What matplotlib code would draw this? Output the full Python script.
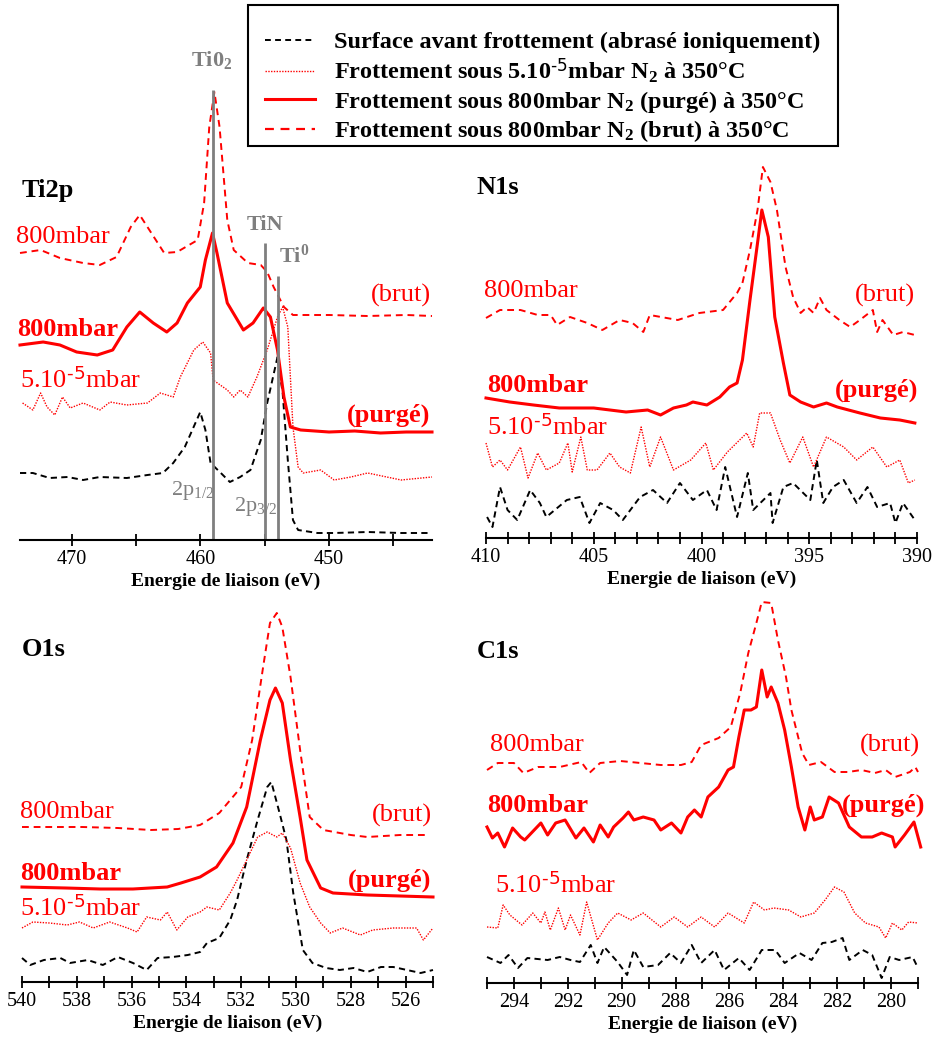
import matplotlib
matplotlib.use("Agg")
import matplotlib.pyplot as plt
from matplotlib.lines import Line2D
from matplotlib.patches import Rectangle

plt.rcParams['font.family'] = ['Liberation Serif', 'DejaVu Serif']
plt.rcParams['mathtext.default'] = 'regular'

RED = '#ff0000'
GRAY = '#7f7f7f'

# ---------------- Ti2p ----------------
ti_surf_e = [474, 473.0, 471.7, 470.3, 469.1, 467.8, 465.7, 464.1, 462.9, 462.1, 461.2, 460.0, 459.6, 459.2,
             458.4, 457.7, 456.9, 456.1, 455.3, 454.8, 454.0, 453.6, 453.2, 452.8, 452.4, 450.9, 449.6, 447.0,
             444.4, 442.1]
ti_surf_i = [67, 67, 62, 63, 60, 63, 62, 65, 67, 77, 93, 128, 110, 77,
             67, 58, 63, 70, 100, 137, 183, 147, 80, 20, 10, 7, 7, 8,
             7, 7]
ti_vac_e = [473.8, 473.0, 472.4, 471.9, 471.3, 470.7, 470.1, 469.1, 467.8, 467.0, 465.7, 464.1, 463.1, 462.1,
            461.55, 460.5, 459.8, 459.2, 459.0, 457.9, 457.4, 456.9, 456.3, 455.6, 454.8, 454.0, 453.6, 453.2,
            452.8, 452.4, 452.0, 450.65, 449.6, 448.3, 447.0, 444.4, 442.0]
ti_vac_i = [137, 130, 147, 133, 125, 143, 132, 137, 130, 138, 135, 137, 147, 143,
            163, 190, 198, 187, 160, 150, 143, 150, 143, 163, 190, 223, 233, 213,
            113, 73, 67, 70, 60, 63, 67, 60, 63]
ti_purge_e = [474, 472.2, 470.9, 469.6, 468.0, 466.8, 465.7, 464.7, 463.65, 462.6, 461.8, 461.0, 460.0, 459.6,
              459.05, 458.7, 457.9, 456.65, 455.9, 455.1, 454.55, 454.0, 453.5, 453.0, 452.2, 450, 448, 446,
              444, 442]
ti_purge_i = [195, 198, 195, 188, 185, 190, 213, 228, 217, 208, 217, 237, 253, 280,
              307, 287, 237, 210, 217, 232, 223, 190, 143, 113, 110, 108, 109, 107,
              108, 108]
ti_brut_e = [474, 472.4, 470.9, 469.1, 467.8, 466.5, 465.4, 464.7, 463.6, 462.8, 461.8, 460.2, 459.7, 459.3,
             458.9, 458.5, 457.9, 457.4, 456.3, 455.3, 454.8, 454.3, 453.5, 452.8, 450, 447, 444, 442]
ti_brut_i = [287, 290, 282, 277, 275, 283, 313, 325, 303, 287, 288, 300, 337, 413,
             448, 413, 320, 290, 277, 275, 268, 253, 233, 225, 225, 224, 225, 224]

# ---------------- N1s ----------------
n_surf_e = [409.95, 409.7, 409.35, 409.0, 408.55, 407.95, 407.5, 407.2, 406.25, 405.65, 405.2, 404.7, 404.1,
            403.65, 402.85, 402.25, 401.6, 401.0, 400.4, 399.75, 399.3, 398.9, 398.35, 397.85, 397.6, 396.8,
            396.7, 396.2, 395.75, 394.95, 394.65, 394.35, 393.9, 393.4, 392.8, 392.3, 391.85, 391.25, 391.0,
            390.65, 390.1]
n_surf_i = [21, 11, 51, 28, 18, 48, 35, 21, 38, 41, 15, 35, 28,
            18, 41, 48, 35, 55, 38, 48, 28, 71, 21, 65, 28, 45,
            15, 51, 55, 38, 78, 35, 51, 58, 35, 51, 31, 35, 15,
            35, 18]
n_vac_e = [410.0, 409.7, 409.35, 409.0, 408.4, 408.05, 407.6, 407.2, 406.6, 406.2, 406.0, 405.6, 405.3, 404.85,
           404.25, 403.8, 403.3, 402.8, 402.4, 401.9, 401.3, 400.5, 399.8, 399.45, 398.8, 397.9, 397.6, 397.3,
           396.8, 396.35, 395.9, 395.3, 394.8, 394.2, 393.4, 392.8, 392.05, 391.4, 390.8, 390.4, 390.1]
n_vac_i = [95, 71, 78, 68, 91, 60, 85, 68, 75, 95, 66, 101, 68, 68,
           85, 71, 65, 111, 71, 101, 68, 78, 95, 68, 86, 105, 91, 125,
           125, 98, 75, 101, 71, 101, 91, 78, 91, 71, 78, 55, 58]
n_purge_e = [410.0, 408.9, 407.8, 406.6, 405.0, 403.5, 402.5, 401.9, 401.3, 400.7, 400.4, 399.75, 399.15, 398.7,
             398.35, 398.1, 397.75, 397.4, 397.2, 396.9, 396.6, 396.2, 395.9, 395.4, 394.8, 394.2, 393.7, 392.65,
             391.7, 390.8, 390.1]
n_purge_i = [140, 136, 133, 130, 130, 126, 128, 123, 130, 133, 136, 133, 141, 151,
             155, 178, 238, 295, 328, 301, 221, 175, 143, 136, 131, 135, 131, 125,
             120, 118, 115]
n_brut_e = [410.0, 409.35, 408.4, 407.6, 407.0, 406.7, 406.1, 405.3, 404.6, 403.8, 403.2, 402.7, 402.4, 401.1,
            400.1, 399.0, 398.35, 398.1, 397.75, 397.4, 397.15, 396.8, 396.5, 396.1, 395.75, 395.4, 395.1, 394.8,
            394.5, 394.2, 393.6, 393.1, 392.65, 392.05, 391.85, 391.6, 391.1, 390.65, 390.1]
n_brut_i = [220, 228, 228, 223, 223, 213, 221, 215, 208, 218, 215, 206, 223, 218,
            225, 228, 245, 255, 288, 328, 371, 356, 328, 271, 241, 225, 231, 225,
            240, 228, 218, 211, 218, 228, 206, 218, 203, 206, 203]

# ---------------- O1s ----------------
o_surf_e = [540, 539.7, 539.2, 538.6, 538.25, 537.6, 537.05, 536.5, 535.95, 535.45, 535.05, 534.5, 533.95, 533.5,
            533.25, 532.8, 532.4, 532.15, 531.8, 531.4, 531.05, 530.9, 530.6, 530.35, 530.1, 529.75, 529.4, 528.9,
            528.4, 527.9, 527.4, 526.9, 526.45, 525.95, 525.45, 525.0]
o_surf_i = [24, 17, 22, 24, 19, 22, 17, 25, 19, 12, 24, 25, 27, 30,
            39, 44, 62, 82, 122, 162, 195, 200, 169, 142, 89, 32, 19, 14,
            12, 14, 10, 15, 15, 12, 9, 12]
o_vac_e = [540, 539.6, 539.0, 538.35, 537.9, 537.4, 536.8, 536.15, 535.8, 535.45, 534.95, 534.7, 534.35, 533.95,
           533.5, 533.25, 532.8, 532.4, 532.15, 531.8, 531.4, 531.05, 530.7, 530.5, 530.2, 529.85, 529.5, 529.1,
           528.75, 528.3, 527.65, 527.2, 526.45, 525.6, 525.35, 525.0]
o_vac_i = [54, 60, 59, 57, 60, 54, 60, 54, 50, 65, 62, 70, 52, 65,
           70, 75, 72, 89, 102, 122, 145, 150, 145, 149, 134, 99, 75, 59,
           49, 54, 47, 52, 54, 54, 42, 54]
o_purge_e = [540, 538.4, 537.15, 535.95, 534.7, 534.2, 533.5, 532.9, 532.3, 531.8, 531.3, 530.95, 530.75, 530.5,
             530.2, 529.85, 529.6, 529.1, 528.65, 527.4, 526.2, 525.0]
o_purge_i = [95, 94, 93, 93, 95, 99, 105, 115, 139, 175, 242, 282, 294, 279,
             222, 165, 122, 94, 89, 87, 86, 85]
o_brut_e = [540, 538.98, 537.8, 536.5, 535.3, 534.3, 533.5, 532.8, 532.0, 531.6, 531.2, 530.95, 530.7, 530.5,
            530.2, 529.85, 529.5, 529.0, 528.0, 527.4, 526.2, 525.2]
o_brut_i = [155, 155, 155, 154, 152, 153, 157, 169, 195, 242, 315, 359, 369, 355,
            305, 232, 165, 152, 147, 145, 147, 147]

# ---------------- C1s ----------------
c_surf_e = [295, 294.5, 294.2, 293.85, 293.5, 292.75, 292.3, 291.9, 291.55, 291.15, 290.9, 290.65, 290.15, 289.8,
            289.55, 289.2, 288.65, 288.2, 287.8, 287.4, 287.05, 286.55, 286.2, 285.65, 285.25, 284.8, 284.3, 283.95,
            283.4, 282.95, 282.55, 282.2, 281.8, 281.55, 281.05, 280.7, 280.35, 280.05, 279.7, 279.2, 279.0]
c_surf_i = [26, 20, 28, 15, 25, 23, 26, 23, 21, 38, 20, 36, 21, 8,
            33, 16, 18, 30, 20, 38, 20, 33, 13, 25, 13, 33, 33, 20,
            30, 23, 40, 41, 45, 23, 33, 28, 5, 26, 23, 26, 15]
c_vac_e = [295, 294.6, 294.4, 294.15, 293.7, 293.3, 293.0, 292.85, 292.65, 292.35, 292.1, 291.9, 291.55, 291.3,
           290.9, 290.5, 290.15, 289.65, 289.2, 288.55, 288.05, 287.55, 287.05, 286.55, 286.05, 285.45, 285.1,
           284.7, 284.35, 283.8, 283.35, 282.85, 282.45, 282.1, 281.75, 281.35, 280.95, 280.45, 280.2, 279.95,
           279.6, 279.35, 279.0]
c_vac_i = [56, 55, 78, 68, 58, 70, 60, 71, 53, 75, 53, 68, 48, 81,
           43, 60, 70, 63, 70, 56, 66, 56, 66, 56, 70, 60, 81,
           73, 75, 73, 66, 70, 83, 96, 91, 70, 60, 56, 45, 60,
           53, 61, 60]
c_purge_e = [295, 294.8, 294.6, 294.35, 294.05, 293.75, 293.6, 293.0, 292.75, 292.45, 292.1, 291.7, 291.4, 291.05,
             290.8, 290.5, 290.3, 289.95, 289.75, 289.55, 289.2, 288.8, 288.55, 288.15, 287.8, 287.55, 287.3,
             287.05, 286.8, 286.4, 286.05, 285.85, 285.65, 285.45, 285.2, 285.0, 284.8, 284.6, 284.45, 284.2,
             283.95, 283.7, 283.45, 283.2, 283.0, 282.85, 282.55, 282.3, 281.95, 281.55, 281.1, 280.7, 280.35,
             279.95, 279.85, 279.5, 279.15, 278.9]
c_purge_i = [156, 145, 150, 136, 155, 146, 143, 160, 148, 160, 163, 145, 155, 141,
             158, 146, 156, 165, 171, 163, 166, 163, 153, 160, 150, 166, 173,
             166, 186, 196, 213, 216, 246, 273, 273, 276, 313, 286, 296, 280,
             253, 216, 176, 153, 176, 163, 166, 186, 180, 156, 146, 146, 150,
             146, 136, 148, 161, 136]
c_brut_e = [295, 294.6, 294.0, 293.65, 293.1, 292.3, 291.5, 291.2, 290.8, 290.05, 289.3, 288.55, 287.8, 287.4,
            287.05, 286.4, 285.95, 285.6, 285.3, 285.0, 284.8, 284.45, 284.2, 283.9, 283.7, 283.3, 283.05, 282.6,
            282.1, 281.6, 281.1, 280.6, 280.2, 279.85, 279.3, 279.1, 279.0]
c_brut_i = [213, 220, 220, 210, 216, 216, 221, 210, 220, 222, 220, 218, 218, 221,
            238, 245, 256, 290, 330, 360, 381, 380, 343, 306, 273, 230, 218, 221,
            211, 211, 213, 210, 213, 206, 211, 216, 211]

legend_labels = ['Surface avant frottement (abrasé ioniquement)',
                 'Frottement sous 5.10$^{\\text{-5}}$mbar N$_2$ à 350°C',
                 'Frottement sous 800mbar N$_2$ (purgé) à 350°C',
                 'Frottement sous 800mbar N$_2$ (brut) à 350°C']

W, H = 932, 1039
fig = plt.figure(figsize=(W / 100, H / 100), dpi=100)


def make_ax(x0, x1, ybot, ytop, xlim):
    ax = fig.add_axes([x0 / W, 1 - ybot / H, (x1 - x0) / W, (ybot - ytop) / H])
    ax.set_xlim(*xlim)
    ax.set_ylim(0, ybot - ytop)
    ax.patch.set_alpha(0)
    for s in ['top', 'left', 'right']:
        ax.spines[s].set_visible(False)
    ax.spines['bottom'].set_linewidth(1.5)
    ax.set_yticks([])
    ax.tick_params(axis='x', which='both', direction='inout', length=9, width=1.3,
                   labelsize=14.5, pad=3)
    ax.set_xlabel('Energie de liaison (eV)', fontsize=14, fontweight='bold', labelpad=2)
    return ax


def draw(ax, surf, vac, purge, brut):
    ax.plot(*surf, color='black', lw=1.4, dashes=(3.2, 2.2), clip_on=False)
    ax.plot(*vac, color=RED, lw=1.0, dashes=(1, 1), clip_on=False)
    ax.plot(*purge, color=RED, lw=2.2, clip_on=False)
    ax.plot(*brut, color=RED, lw=1.4, dashes=(3.5, 2.5), clip_on=False)


def labels(ax, name, pos):
    (nx, ny), (bx, by), (brx, bry), (px, py), (prx, pry), (vx, vy) = pos
    ax.text(nx, ny, name, fontsize=19, fontweight='bold', va='center', ha='left')
    ax.text(bx, by, '800mbar', fontsize=19, color=RED, va='center', ha='left')
    ax.text(brx, bry, '(brut)', fontsize=19, color=RED, va='center', ha='right')
    ax.text(px, py, '800mbar', fontsize=19, color=RED, fontweight='bold', va='center', ha='left')
    ax.text(prx, pry, '(purgé)', fontsize=19, color=RED, fontweight='bold', va='center', ha='right')
    ax.text(vx, vy, '5.10$^{\\text{-5}}$mbar', fontsize=19, color=RED, va='center', ha='left')


# Ti2p
ax1 = make_ax(20, 432, 540, 60, (474, 442))
ax1.set_xticks([470, 460, 450])
ax1.set_xticks([465, 455, 445], minor=True)
draw(ax1, (ti_surf_e, ti_surf_i), (ti_vac_e, ti_vac_i), (ti_purge_e, ti_purge_i), (ti_brut_e, ti_brut_i))
ax1.vlines([459.0, 455.0, 454.0], 0, [450, 297, 264], color=GRAY, lw=2)
ax1.text(459.1, 480, 'Ti0$_2$', color=GRAY, fontsize=16, fontweight='bold', ha='center', va='center')
ax1.text(455.0, 315, 'TiN', color=GRAY, fontsize=16, fontweight='bold', ha='center', va='center')
ax1.text(453.9, 284, 'Ti$^0$', color=GRAY, fontsize=16, fontweight='bold', ha='left', va='center')
ax1.text(460.6, 50, '2p$_{1/2}$', color=GRAY, fontsize=16, ha='center', va='center')
ax1.text(455.7, 33, '2p$_{3/2}$', color=GRAY, fontsize=16, ha='center', va='center')
labels(ax1, 'Ti2p', [(473.85, 350), (474.3, 303), (442.1, 245), (474.2, 210), (442.1, 125), (474.0, 160)])

# N1s
ax2 = make_ax(486, 917, 538, 150, (410, 390))
ax2.set_xticks([410, 405, 400, 395, 390])
ax2.set_xticks(range(391, 410), minor=True)
draw(ax2, (n_surf_e, n_surf_i), (n_vac_e, n_vac_i), (n_purge_e, n_purge_i), (n_brut_e, n_brut_i))
labels(ax2, 'N1s', [(410.45, 351), (410.1, 247), (390.1, 243), (409.95, 153), (389.95, 148), (409.95, 111)])

# O1s
ax3 = make_ax(22, 433, 982, 600, (540, 525))
ax3.set_xticks(range(540, 525, -2))
ax3.set_xticks(range(525, 540), minor=True)
draw(ax3, (o_surf_e, o_surf_i), (o_vac_e, o_vac_i), (o_purge_e, o_purge_i), (o_brut_e, o_brut_i))
labels(ax3, 'O1s', [(540, 332), (540.07, 170), (525.05, 167), (540.07, 109), (525.05, 102), (540.07, 74)])

# C1s
ax4 = make_ax(487, 918, 983, 590, (295, 279))
ax4.set_xticks(range(294, 279, -2))
ax4.set_xticks(range(279, 296), minor=True)
draw(ax4, (c_surf_e, c_surf_i), (c_vac_e, c_vac_i), (c_purge_e, c_purge_i), (c_brut_e, c_brut_i))
labels(ax4, 'C1s', [(295.37, 331), (294.9, 238), (278.93, 238), (295, 178), (278.74, 178), (294.7, 98)])

handles = [Line2D([], [], color='black', lw=1.4, dashes=(3, 2.2)),
           Line2D([], [], color=RED, lw=1.0, dashes=(1, 1)),
           Line2D([], [], color=RED, lw=2.2),
           Line2D([], [], color=RED, lw=1.6, dashes=(4, 3))]
leg = fig.legend(handles, legend_labels, loc='upper left', bbox_to_anchor=(248 / W, 1 - 14 / H),
                 prop={'family': 'Liberation Serif', 'weight': 'bold', 'size': 17.5},
                 frameon=False, borderaxespad=0,
                 handlelength=2.05, handletextpad=0.8, labelspacing=0.15, borderpad=0.7)
fig.patches.append(Rectangle((248 / W, 1 - 146 / H), 590 / W, 141 / H, transform=fig.transFigure,
                             fill=False, edgecolor='black', lw=1.5))

fig.savefig('out.png', dpi=100)
